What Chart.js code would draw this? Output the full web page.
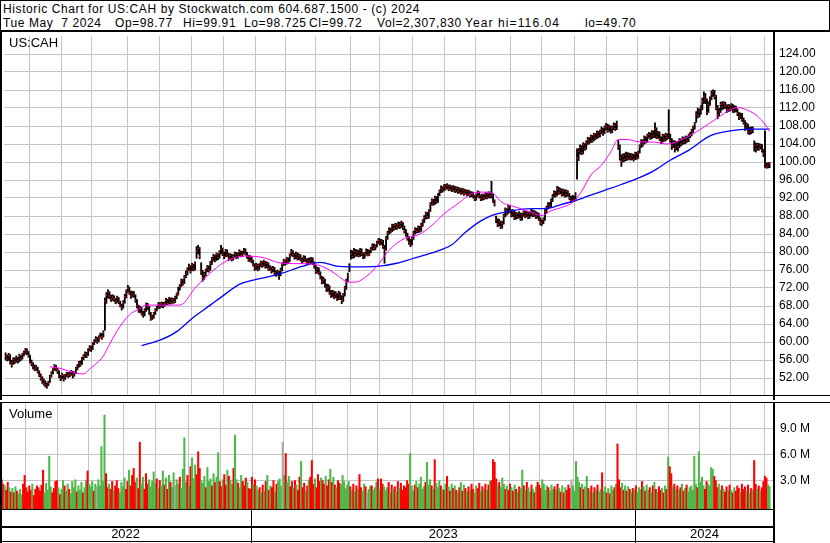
<!DOCTYPE html>
<html><head><meta charset="utf-8">
<script src="https://cdn.jsdelivr.net/npm/chart.js@4/dist/chart.umd.min.js"></script>
<style>
html,body{margin:0;padding:0;background:#fff;}
body{width:830px;height:543px;position:relative;overflow:hidden;font-family:"Liberation Sans",Arial,sans-serif;color:#000;}
#hdr{position:absolute;left:0;top:0;width:828px;height:29px;border:1px solid #000;border-bottom:2px solid #000;}
.t{position:absolute;font-size:12px;white-space:pre;line-height:14px;letter-spacing:0.6px;}
.lbl{position:absolute;font-size:13px;line-height:15px;white-space:pre;}
canvas{position:absolute;left:0;}
</style></head><body>
<div id="hdr"></div>
<div class="t" style="left:3px;top:2px">Historic Chart for US:CAH by Stockwatch.com 604.687.1500 - (c) 2024</div>
<div class="t" style="left:3px;top:16px">Tue May  7 2024</div>
<div class="t" style="left:115px;top:16px">Op=98.77</div>
<div class="t" style="left:183px;top:16px">Hi=99.91</div>
<div class="t" style="left:244px;top:16px">Lo=98.725</div>
<div class="t" style="left:309px;top:16px">Cl=99.72</div>
<div class="t" style="left:377px;top:16px">Vol=2,307,830</div>
<div class="t" style="left:465px;top:16px;letter-spacing:1.1px">Year hi=116.04</div>
<div class="t" style="left:585px;top:16px">lo=49.70</div>
<canvas id="price" width="830" height="368" style="top:32px"></canvas>
<canvas id="vol" width="830" height="141" style="top:402px"></canvas>
<div class="lbl" style="left:9px;top:35px">US:CAH</div>
<div class="lbl" style="left:9px;top:406px">Volume</div>
<script>
// ---- data (trading-day index 0 = May 10 2022 ... 500 = May 7 2024) ----
const cl = [
56.8,56.2,57.0,55.4,55.0,56.1,55.6,56.4,55.8,56.9,
56.3,57.2,57.6,58.2,57.8,57.0,55.6,55.2,54.6,54.0,
54.3,53.4,52.6,52.0,51.6,50.9,50.6,50.1,51.0,52.3,
53.0,53.8,54.6,54.0,53.6,52.4,52.0,52.6,51.8,52.4,
52.9,52.5,52.8,53.3,52.7,53.0,54.0,54.6,55.3,55.0,
56.2,56.8,57.4,57.0,58.1,58.7,58.4,59.5,60.1,60.7,
60.2,61.0,61.0,61.2,62.0,69.0,70.4,71.0,70.2,69.6,
70.0,69.5,69.0,69.8,68.9,68.2,67.6,68.8,70.0,71.2,
72.0,71.0,70.2,70.8,70.4,69.2,68.0,67.0,67.5,66.4,
66.0,67.0,68.2,67.8,66.4,65.2,65.6,66.2,67.0,67.6,
68.4,67.8,68.6,68.0,68.5,69.3,68.6,69.6,68.8,69.4,
69.0,69.8,70.6,70.6,72.4,73.6,73.0,74.5,75.2,76.0,
76.8,75.8,77.0,76.2,77.4,80.2,80.8,79.0,75.6,74.2,
75.0,75.8,76.6,76.0,77.4,78.4,79.0,78.2,79.4,78.8,
79.8,80.6,79.6,79.0,80.2,79.4,78.6,79.2,78.4,79.0,
79.6,78.8,79.4,80.0,79.2,79.8,80.4,79.6,79.0,78.2,
78.8,78.0,77.2,76.4,77.0,76.2,77.0,77.6,77.0,77.8,
76.8,77.4,76.2,76.6,75.8,76.4,75.4,75.0,75.6,74.6,
76.0,77.2,78.0,78.0,78.4,77.8,79.2,80.0,79.4,78.8,
79.6,78.6,79.2,78.4,78.0,78.8,78.2,77.6,78.2,77.8,
78.4,77.6,76.8,75.6,76.2,75.4,74.4,73.4,73.8,72.6,
71.8,72.2,71.0,70.4,71.0,70.0,70.6,69.6,70.8,69.8,
69.2,70.4,72.0,73.6,74.8,76.8,79.6,79.0,80.2,79.4,
80.0,79.2,80.4,79.6,78.8,79.6,80.2,79.4,79.4,80.6,
81.4,80.8,81.2,82.0,82.6,81.8,82.4,81.2,80.6,83.0,
84.2,85.0,84.6,85.8,85.2,86.0,85.4,86.2,85.6,86.4,
85.4,84.6,84.0,83.0,82.2,81.8,83.0,84.2,85.0,84.6,
85.4,84.8,86.0,86.8,87.6,88.4,87.8,89.0,90.6,91.4,
90.8,92.0,91.2,92.6,93.4,94.2,93.8,94.6,94.2,94.8,
94.0,94.6,93.8,94.4,93.6,94.2,93.4,94.0,93.2,93.8,
93.0,93.6,92.8,93.4,92.6,93.0,92.4,91.8,92.6,93.2,
92.4,91.8,92.6,92.0,92.8,92.2,93.0,92.4,92.6,91.4,
90.6,87.2,86.2,86.8,85.6,86.4,88.0,89.4,88.6,90.0,
89.2,88.2,89.0,87.6,88.4,87.8,88.6,87.4,88.2,88.8,
88.0,88.6,87.8,88.4,89.0,88.2,88.8,87.8,88.4,87.4,
86.6,86.4,87.2,89.0,89.8,90.6,90.2,91.4,92.4,93.2,
92.6,94.0,93.2,93.8,92.8,93.6,92.6,93.4,92.8,92.0,
91.4,91.4,91.6,92.6,100.8,102.4,103.2,102.0,103.8,103.0,
104.2,105.0,104.4,105.6,104.8,106.0,105.4,106.4,105.8,106.6,
107.2,106.4,107.6,108.0,107.0,107.8,106.8,107.6,108.2,107.4,
108.4,103.4,101.0,100.2,101.4,100.6,101.8,100.8,101.6,100.8,
101.4,100.6,101.8,101.0,102.0,103.4,104.6,104.0,105.4,104.6,
105.8,106.2,105.4,106.6,105.8,107.4,105.6,106.4,105.2,104.6,
105.8,105.0,106.0,105.4,106.6,104.8,103.6,104.4,103.0,104.2,
103.4,104.8,104.0,105.2,104.4,105.4,104.8,105.8,106.2,106.8,
107.6,108.4,110.6,110.2,111.2,112.0,113.4,114.6,113.8,111.0,
112.8,114.0,115.2,115.6,114.6,112.0,110.4,111.2,112.8,112.2,
113.0,112.4,111.6,112.4,111.8,112.6,111.4,112.0,111.6,110.8,
110.0,110.6,109.4,108.8,107.6,108.2,106.6,107.2,106.8,107.4,
103.6,102.8,103.8,103.0,103.6,102.6,101.8,99.6,98.9,99.3,
99.72];
const hi = [
57.6,57.1,57.5,57.2,55.9,56.5,56.5,56.9,56.6,57.3,
57.0,57.5,58.0,58.6,58.5,57.9,57.1,56.0,55.4,54.9,
54.8,54.4,53.6,52.9,52.3,51.8,51.4,50.9,51.3,52.6,
53.4,54.1,55.0,54.8,54.2,53.6,52.6,53.1,52.7,52.8,
53.3,53.2,53.3,53.7,53.5,53.4,54.4,55.0,55.7,55.8,
56.6,57.2,57.8,57.7,58.5,59.2,59.1,59.9,60.5,61.2,
61.0,61.4,62.0,61.9,62.5,69.8,71.0,71.6,71.2,70.4,
70.5,70.3,69.7,70.2,69.9,69.1,68.4,69.2,70.6,71.6,
72.6,72.2,71.3,71.3,71.2,70.5,69.4,68.2,67.9,67.7,
66.8,67.4,68.7,68.6,67.9,66.6,66.0,66.6,67.4,68.0,
68.8,68.7,68.9,68.8,68.9,69.7,69.5,69.9,69.8,69.8,
69.7,70.2,70.9,72.2,72.8,74.0,73.9,74.8,75.8,76.5,
77.3,77.0,77.5,77.3,77.8,81.2,81.5,81.0,77.6,75.9,
75.5,76.2,77.0,76.9,77.9,78.8,79.5,79.3,79.8,79.6,
80.3,81.5,80.9,80.0,80.6,80.5,79.7,79.6,79.5,79.4,
80.0,79.9,79.8,80.5,80.2,80.2,80.8,80.7,79.9,79.3,
79.2,79.0,78.2,77.4,77.5,77.3,77.4,78.0,77.9,78.2,
77.9,77.8,77.6,77.0,76.7,76.8,76.6,75.8,76.0,75.7,
76.4,77.6,78.4,78.3,78.8,78.7,79.6,80.6,80.3,79.7,
80.0,79.8,79.6,79.4,78.7,79.2,79.1,78.5,78.6,78.7,
78.8,78.7,77.8,77.0,76.6,76.5,75.6,74.6,74.4,74.0,
72.9,72.8,72.5,71.4,71.5,71.3,71.2,70.8,71.3,71.0,
70.3,70.8,72.4,74.0,75.3,77.4,80.4,80.3,80.8,80.6,
80.5,80.4,80.8,80.7,79.8,79.9,80.7,80.6,80.4,81.0,
81.8,81.8,81.6,82.4,83.0,82.9,82.8,82.6,81.5,83.4,
84.6,85.4,85.3,86.2,86.1,86.4,86.3,86.7,86.6,86.9,
86.6,85.8,85.0,84.2,83.4,82.8,83.4,84.6,85.4,85.3,
85.8,85.7,86.4,87.2,88.1,88.9,88.8,89.4,91.0,91.8,
91.7,92.4,92.3,93.0,93.8,94.7,94.5,95.0,95.0,95.2,
94.9,94.9,94.7,94.8,94.6,94.5,94.4,94.3,94.1,94.2,
94.0,93.9,93.7,93.8,93.5,93.4,93.3,92.6,92.9,93.6,
93.4,92.7,92.9,92.8,93.2,93.1,93.4,93.3,95.7,92.8,
91.6,88.0,87.4,87.3,86.9,86.8,88.4,89.8,89.6,90.4,
90.3,89.4,89.4,89.1,88.8,88.7,89.0,88.7,88.6,89.2,
89.0,89.0,88.8,88.8,89.5,89.3,89.2,89.0,88.8,88.6,
87.6,87.1,87.6,89.4,90.2,91.0,91.0,91.8,92.8,93.6,
93.5,94.6,94.4,94.2,94.0,94.0,93.8,93.8,93.6,93.0,
92.3,92.6,92.5,93.2,102.9,103.0,103.8,103.6,104.3,104.1,
104.7,105.5,105.4,106.0,105.9,106.4,106.3,106.9,106.8,107.1,
107.8,107.5,108.0,108.6,108.4,108.2,108.0,108.0,108.7,108.6,
109.1,104.8,103.8,101.6,101.8,101.9,102.2,102.1,102.0,101.9,
101.8,101.7,102.2,102.1,102.4,103.8,105.0,104.9,105.8,105.6,
106.2,106.6,106.5,107.0,106.9,108.7,107.6,106.8,106.7,105.6,
106.2,106.1,106.4,106.3,111.6,106.2,105.2,104.8,104.7,104.6,
104.6,105.2,105.1,105.6,105.5,105.8,105.7,106.2,106.6,107.3,
108.0,108.8,111.2,112.0,111.8,112.5,114.2,115.6,115.2,114.0,
113.4,114.5,115.8,116.04,115.9,114.8,112.6,111.9,113.3,113.4,
113.4,113.3,112.7,112.8,112.7,113.0,112.8,112.5,112.4,111.8,
111.0,110.9,110.8,109.8,109.2,108.7,108.4,107.7,107.8,107.8,
104.7,104.2,104.2,104.1,104.0,103.9,102.8,106.9,99.8,99.8,
99.91];
const lo = [
56.0,55.8,55.9,55.1,54.4,55.0,55.2,55.5,55.3,55.6,
55.9,56.2,56.9,57.3,57.2,56.6,55.3,54.7,54.0,53.6,
53.7,53.1,52.3,51.5,50.8,50.4,50.0,49.7,50.3,51.0,
52.2,52.9,53.7,53.6,53.0,52.1,51.4,51.8,51.3,51.7,
52.3,52.1,52.3,52.6,52.0,52.4,53.0,53.8,54.4,54.6,
55.0,56.0,56.6,56.5,57.0,58.0,57.9,58.3,59.4,60.0,
59.7,60.1,60.9,60.6,61.1,62.6,68.6,69.8,69.6,69.0,
69.2,69.0,68.5,68.8,68.5,67.8,67.1,67.5,68.6,69.8,
71.0,70.6,69.7,70.0,69.9,68.8,67.6,66.6,66.5,66.0,
65.5,65.8,66.8,67.2,66.1,64.8,65.0,65.3,66.1,66.9,
67.4,67.5,67.7,67.6,67.9,68.3,68.2,68.5,68.4,68.6,
68.6,68.8,69.6,70.4,71.5,72.3,72.6,73.0,74.3,74.9,
75.9,75.3,75.9,75.8,76.0,78.6,79.6,78.5,75.0,73.5,
73.9,74.7,75.6,75.5,75.9,77.2,78.0,77.8,78.1,78.3,
78.6,79.6,79.2,78.5,78.9,79.0,78.1,78.3,78.0,78.2,
78.8,78.5,78.6,79.1,78.9,79.0,79.6,79.3,78.6,77.9,
77.9,77.6,76.9,75.9,76.1,75.8,76.0,76.7,76.6,76.8,
76.4,76.5,75.9,75.9,75.3,75.6,75.0,74.6,74.8,73.9,
74.7,75.8,77.0,77.1,77.3,77.4,77.9,79.1,79.0,78.4,
78.5,78.2,78.3,78.0,77.5,77.8,77.9,77.2,77.3,77.4,
77.4,77.2,76.4,75.2,75.3,75.0,74.0,72.9,73.0,72.2,
71.2,71.3,70.6,69.9,70.0,69.6,69.8,69.2,69.4,69.4,
68.5,69.0,70.2,71.7,73.4,75.6,78.4,78.6,78.7,79.0,
79.1,78.9,79.0,79.2,78.5,78.6,79.3,79.1,79.2,79.8,
80.4,80.4,80.5,81.1,81.8,81.5,81.6,80.8,77.5,80.4,
82.8,84.0,84.2,84.5,84.8,85.0,85.0,85.3,85.2,85.4,
85.0,84.2,83.5,82.6,81.7,81.2,81.6,82.8,84.0,84.2,
84.3,84.4,84.6,85.7,86.5,87.3,87.4,87.5,89.0,90.4,
90.4,90.6,90.8,91.0,92.5,93.2,93.3,93.6,93.8,94.0,
93.6,93.7,93.4,93.5,93.2,93.3,93.0,93.1,92.8,92.9,
92.6,92.8,92.4,92.5,92.2,92.3,92.0,91.4,91.5,92.2,
92.0,91.4,91.5,91.6,91.8,91.8,92.0,92.0,92.0,91.0,
90.2,86.5,85.6,85.8,85.2,85.3,86.2,87.8,88.2,88.5,
88.8,87.8,87.9,87.2,87.3,87.4,87.6,87.0,87.1,87.9,
87.6,87.8,87.4,87.5,88.0,87.8,87.9,87.4,87.5,87.0,
86.0,85.9,86.3,87.0,88.6,89.5,89.8,90.0,91.2,92.2,
92.2,92.5,92.8,92.9,92.4,92.5,92.2,92.3,92.4,91.6,
91.0,91.1,91.2,91.4,96.2,100.3,101.8,101.6,101.8,102.6,
102.8,103.9,104.0,104.3,104.4,104.7,105.0,105.2,105.4,105.6,
106.3,105.9,106.3,107.1,106.6,106.8,106.4,106.5,107.2,107.0,
107.2,102.8,100.4,99.0,100.0,100.1,100.3,100.4,100.6,100.4,
100.5,100.2,100.5,100.6,100.8,102.0,103.2,103.5,104.0,104.2,
104.4,105.3,105.0,105.2,105.4,105.4,105.2,105.3,104.8,104.1,
104.4,104.6,104.7,105.0,105.2,104.4,102.8,103.2,102.2,102.7,
102.4,103.2,103.6,103.8,104.0,104.1,104.4,104.5,105.4,105.8,
106.6,107.3,108.8,109.8,110.0,110.6,111.6,113.0,113.0,110.5,
111.0,112.6,113.8,114.6,114.0,111.6,109.6,110.2,111.0,111.6,
111.8,111.9,111.0,111.2,111.3,111.5,111.0,111.0,111.2,110.3,
109.4,109.6,109.0,108.4,107.0,107.3,106.2,106.1,106.3,106.5,
102.4,102.2,102.6,102.6,102.9,102.2,101.2,98.8,98.6,98.7,
98.725];
const volM = [
3.1,2.6,2.4,1.9,2.8,2.2,1.7,2.1,1.6,2.3,
1.8,1.5,2.0,1.4,2.6,3.6,2.2,1.7,2.4,1.9,
2.6,1.3,2.0,2.4,2.2,1.8,2.5,4.2,1.6,2.7,
1.9,5.8,2.3,1.6,2.1,2.9,3.0,2.2,1.4,2.0,
3.0,2.4,1.8,2.6,2.0,1.5,2.9,2.2,3.1,1.7,
2.4,1.9,2.8,1.6,2.2,3.0,4.1,2.6,2.3,2.9,
1.8,2.6,2.3,3.1,2.4,6.9,2.9,10.5,3.8,2.2,
2.6,2.0,2.9,1.8,2.4,3.0,2.1,1.6,2.8,2.3,
3.3,2.0,2.9,4.2,2.4,3.6,4.4,2.8,3.3,2.1,
7.4,2.6,3.4,2.0,3.8,2.6,3.1,2.3,2.9,4.0,
2.7,3.2,2.1,3.0,2.4,4.1,2.5,3.3,2.0,3.6,
2.8,2.2,3.9,2.4,3.1,2.6,3.4,2.1,4.3,7.9,
2.8,3.6,2.4,4.6,5.6,3.2,4.8,3.7,6.3,4.4,
3.0,2.7,3.5,2.2,4.5,2.9,3.2,2.4,3.8,2.8,
3.4,6.2,2.9,2.3,3.1,3.7,2.5,4.2,3.5,3.0,
2.6,4.4,8.2,3.1,2.7,2.2,3.6,2.9,2.4,3.3,
2.8,2.1,2.0,3.4,2.6,3.1,2.4,1.9,2.2,1.6,
2.5,1.8,2.9,3.6,1.9,2.4,2.2,3.0,1.7,2.6,
2.9,3.2,2.4,7.4,3.6,6.1,2.8,3.5,2.3,2.9,
2.1,3.0,2.5,1.9,3.4,5.2,2.2,2.7,1.8,2.4,
3.1,3.4,5.3,2.6,3.2,2.2,3.7,2.9,3.3,3.0,
2.6,3.5,2.4,3.1,4.3,2.8,3.4,2.5,2.2,3.0,
2.7,2.5,3.6,2.9,2.1,2.5,2.9,2.3,1.9,2.6,
1.7,2.4,2.0,3.7,2.2,1.8,2.6,2.3,1.6,2.0,
2.4,2.4,1.9,2.2,2.8,3.2,2.0,3.2,2.6,2.3,
1.9,2.2,2.8,1.6,2.5,2.0,2.3,1.7,2.9,2.1,
2.7,1.9,2.4,2.2,3.0,2.6,6.1,2.4,1.8,2.5,
2.9,2.2,2.6,3.4,2.0,2.3,2.8,5.1,2.5,3.1,
2.4,2.0,5.4,2.7,2.2,3.0,2.4,2.0,1.9,2.6,
3.5,2.3,1.8,2.6,2.1,2.4,1.9,1.6,2.2,2.8,
1.8,2.5,2.1,1.7,2.3,1.9,2.6,2.0,1.6,2.4,
2.1,2.7,1.8,2.3,2.0,2.6,1.9,2.5,2.9,3.0,
5.4,5.1,3.2,2.4,2.8,2.2,3.3,2.6,2.0,2.4,
1.9,2.6,2.2,1.8,2.5,2.0,1.7,2.3,2.1,4.2,
2.4,1.9,2.8,2.2,1.7,2.5,2.0,1.6,2.3,2.8,
2.5,2.1,3.1,2.6,1.9,2.4,2.2,1.8,2.5,2.0,
2.3,1.9,2.6,2.1,1.7,2.4,1.6,2.2,1.9,2.5,
2.1,3.1,2.4,1.8,5.2,3.4,2.8,2.2,2.6,2.0,
2.3,3.5,2.1,1.8,2.4,1.6,2.2,1.9,2.5,1.7,
2.0,3.9,1.8,2.3,1.6,2.1,1.5,2.4,1.9,2.2,
2.6,7.2,3.1,2.2,2.7,1.9,2.4,1.8,2.3,2.0,
1.6,2.1,1.9,2.4,1.7,2.2,2.0,2.9,2.3,1.8,
2.5,1.9,2.2,1.6,2.4,2.8,2.0,1.7,2.3,1.9,
2.1,1.6,2.4,2.0,5.7,4.6,3.8,2.3,2.6,2.0,
2.4,1.9,2.2,2.6,1.8,2.1,2.5,1.7,2.2,2.4,
1.9,5.8,2.6,2.2,6.3,2.8,3.4,2.4,2.0,2.9,
2.6,2.4,4.5,4.3,3.5,3.0,2.2,2.6,1.9,2.4,
2.0,1.7,2.3,1.8,2.5,1.9,1.6,2.2,1.8,2.4,
2.1,1.7,2.6,2.0,2.3,1.8,2.5,1.6,2.1,1.9,
5.3,2.6,2.0,2.4,1.8,2.2,2.9,3.5,3.3,2.5,
2.31];
// moving averages (index, value)
const maFastIdx = [29,35,46,51,55,64,68,75,81,87,92,105,114,125,134,142,149,157,168,181,194,203,212,218,224,229,235,243,251,261,270,279,287,297,305,313,318,325,331,341,351,357,364,371,377,383,390,396,401,407,414,425,433,444,455,466,474,479,485,492,497,500];
const maFastVal = [54.5,54.2,53.1,52.9,54.0,56.9,59.5,63.5,66.0,67.3,68.2,68.2,68.2,72.4,75.3,77.5,78.6,79.1,78.8,77.5,77.4,77.2,76.0,74.6,73.3,73.3,74.3,76.8,80.4,83.0,83.8,85.9,88.5,91.0,93.0,93.3,93.2,91.0,90.3,89.2,88.1,89.2,89.9,91.0,93.5,97.1,99.3,102.2,105.0,105.0,104.5,104.4,104.0,105.2,107.3,109.8,111.6,112.1,111.6,110.2,108.4,106.8];
const maSlowIdx = [89,101,112,123,134,142,153,164,171,181,194,206,218,231,243,256,266,279,292,300,310,318,326,341,355,364,372,381,392,403,414,425,435,448,461,474,487,500];
const maSlowVal = [59.2,60.4,62.3,65.5,68.2,70.2,72.8,73.9,74.4,75.3,76.8,77.7,76.8,76.7,76.8,77.5,78.5,79.8,81.6,84.1,86.7,88.1,88.8,89.6,89.7,90.6,91.3,92.4,93.7,95.0,96.4,98.2,100.4,102.8,105.8,106.9,107.3,107.3];
const monthStarts = [15,36,56,79,100,121,142,163,183,202,225,244,266,287,307,330,350,372,393,413,434,454,474,496];
const yearStarts = [163,413];
const yearLabels = ['2022','2023','2024'];
const priceTicks = [52,56,60,64,68,72,76,80,84,88,92,96,100,104,108,112,116,120,124];
const volTicks = [3,6,9];

// ---- rendering ----
const XMIN = -1.04, XMAX = 502.9;
const GRID = '#c4c4c4';
Chart.defaults.font.family = '"Liberation Sans", Arial, sans-serif';
Chart.defaults.font.size = 12;
Chart.defaults.color = '#000';

function monthAxis(){
  return {
    type:'linear', min:XMIN, max:XMAX, position:'bottom', offset:false,
    afterBuildTicks(s){ s.ticks = monthStarts.map(v=>({value:v+0.5})); },
    ticks:{display:false},
    grid:{color:GRID, lineWidth:1, drawTicks:false, offset:false},
    border:{display:false},
    afterFit(s){ s.height = 0; s.paddingLeft = 0; s.paddingRight = 0; }
  };
}

const frame = {
  id:'frame',
  afterDraw(chart, args, opts){
    const c = chart.ctx, a = chart.chartArea;
    c.save();
    c.fillStyle = '#000';
    c.fillRect(0, 0, 2, chart.height);            // left border
    c.fillRect(a.right - 1, 0, 2, chart.height);  // right border of plot
    if (opts.kind === 'price') {
      c.fillRect(0, a.bottom - 1, chart.width, 1);
    } else {
      c.fillRect(0, 0, chart.width, 1);
      c.fillRect(0, a.bottom, a.right, 1);
      c.fillRect(0, a.bottom + 17, a.right, 2);
      c.fillRect(0, chart.height - 2, a.right, 1);
      const xs = chart.scales.x;
      yearStarts.forEach(v => {
        const px = Math.round(xs.getPixelForValue(v - 0.5));
        c.fillRect(px, a.bottom, 1, chart.height - a.bottom);
      });
    }
    c.restore();
  }
};

const barData = cl.map((v,i)=>({x:i, y:[lo[i], hi[i]]}));
const closeData = cl.map((v,i)=>({x:i, y:v}));
const fastData = maFastIdx.map((v,i)=>({x:v, y:maFastVal[i]}));
const slowData = maSlowIdx.map((v,i)=>({x:v, y:maSlowVal[i]}));

new Chart(document.getElementById('price'), {
  type:'bar',
  data:{datasets:[
    {type:'line', data:fastData, borderColor:'#ff00ff', borderWidth:1, pointRadius:0, cubicInterpolationMode:'monotone', order:1},
    {type:'line', data:slowData, borderColor:'#0000ff', borderWidth:1.3, pointRadius:0, cubicInterpolationMode:'monotone', order:1},
    {type:'scatter', data:closeData, backgroundColor:'#ff0000', borderWidth:0, pointStyle:'rect', pointRadius:0.9, order:2},
    {type:'bar', data:barData, backgroundColor:'#000', barThickness:1.2, order:3}
  ]},
  options:{
    responsive:false, animation:false, devicePixelRatio:1,
    layout:{padding:0},
    plugins:{legend:{display:false}, tooltip:{enabled:false}, frame:{kind:'price'}},
    scales:{
      x: monthAxis(),
      y:{
        type:'linear', position:'right', min:48, max:128,
        afterBuildTicks(s){ s.ticks = priceTicks.map(v=>({value:v})); },
        ticks:{padding:5, callback:v=>v.toFixed(2), font:{size:12}},
        grid:{color:GRID, drawTicks:false},
        border:{display:false},
        afterFit(s){ s.width = 56; s.paddingTop = 0; s.paddingBottom = 0; }
      }
    }
  },
  plugins:[frame]
});

const volBase = -0.25;
const volData = volM.map((v,i)=>({x:i, y:[volBase, v]}));
const volColors = volM.map((v,i)=>{
  if (i === 0) return '#ff0000';
  if (cl[i] > cl[i-1]) return '#4cb848';
  if (cl[i] < cl[i-1]) return '#ff0000';
  return '#a8a8a8';
});
const yearMid = [];
const bounds = [XMIN, ...yearStarts.map(v=>v-0.5), XMAX];
for (let k=0;k<yearLabels.length;k++) yearMid.push((bounds[k]+bounds[k+1])/2);

new Chart(document.getElementById('vol'), {
  type:'bar',
  data:{datasets:[
    {data:volData, backgroundColor:volColors, barThickness:1.4, xAxisID:'x', yAxisID:'y'}
  ]},
  options:{
    responsive:false, animation:false, devicePixelRatio:1,
    layout:{padding:0},
    plugins:{legend:{display:false}, tooltip:{enabled:false}, frame:{kind:'vol'}},
    scales:{
      x: monthAxis(),
      xYear:{
        type:'linear', min:XMIN, max:XMAX, position:'bottom', offset:false,
        afterBuildTicks(s){ s.ticks = yearMid.map(v=>({value:v})); },
        ticks:{padding:18, maxRotation:0, minRotation:0, autoSkip:false, font:{size:13},
               callback:(v,idx)=>yearLabels[idx]},
        grid:{display:false, drawTicks:false, offset:false},
        border:{display:false},
        afterFit(s){ s.height = 34; s.paddingLeft = 0; s.paddingRight = 0; }
      },
      y:{
        type:'linear', position:'right', min:volBase, max:12,
        afterBuildTicks(s){ s.ticks = [...volTicks, 12].map(v=>({value:v})); },
        ticks:{padding:6, callback:v=> v<12 ? v.toFixed(1)+' M' : '', font:{size:12}},
        grid:{color:GRID, drawTicks:false},
        border:{display:false},
        afterFit(s){ s.width = 56; s.paddingTop = 0; s.paddingBottom = 0; }
      }
    }
  },
  plugins:[frame]
});
</script>
</body></html>
